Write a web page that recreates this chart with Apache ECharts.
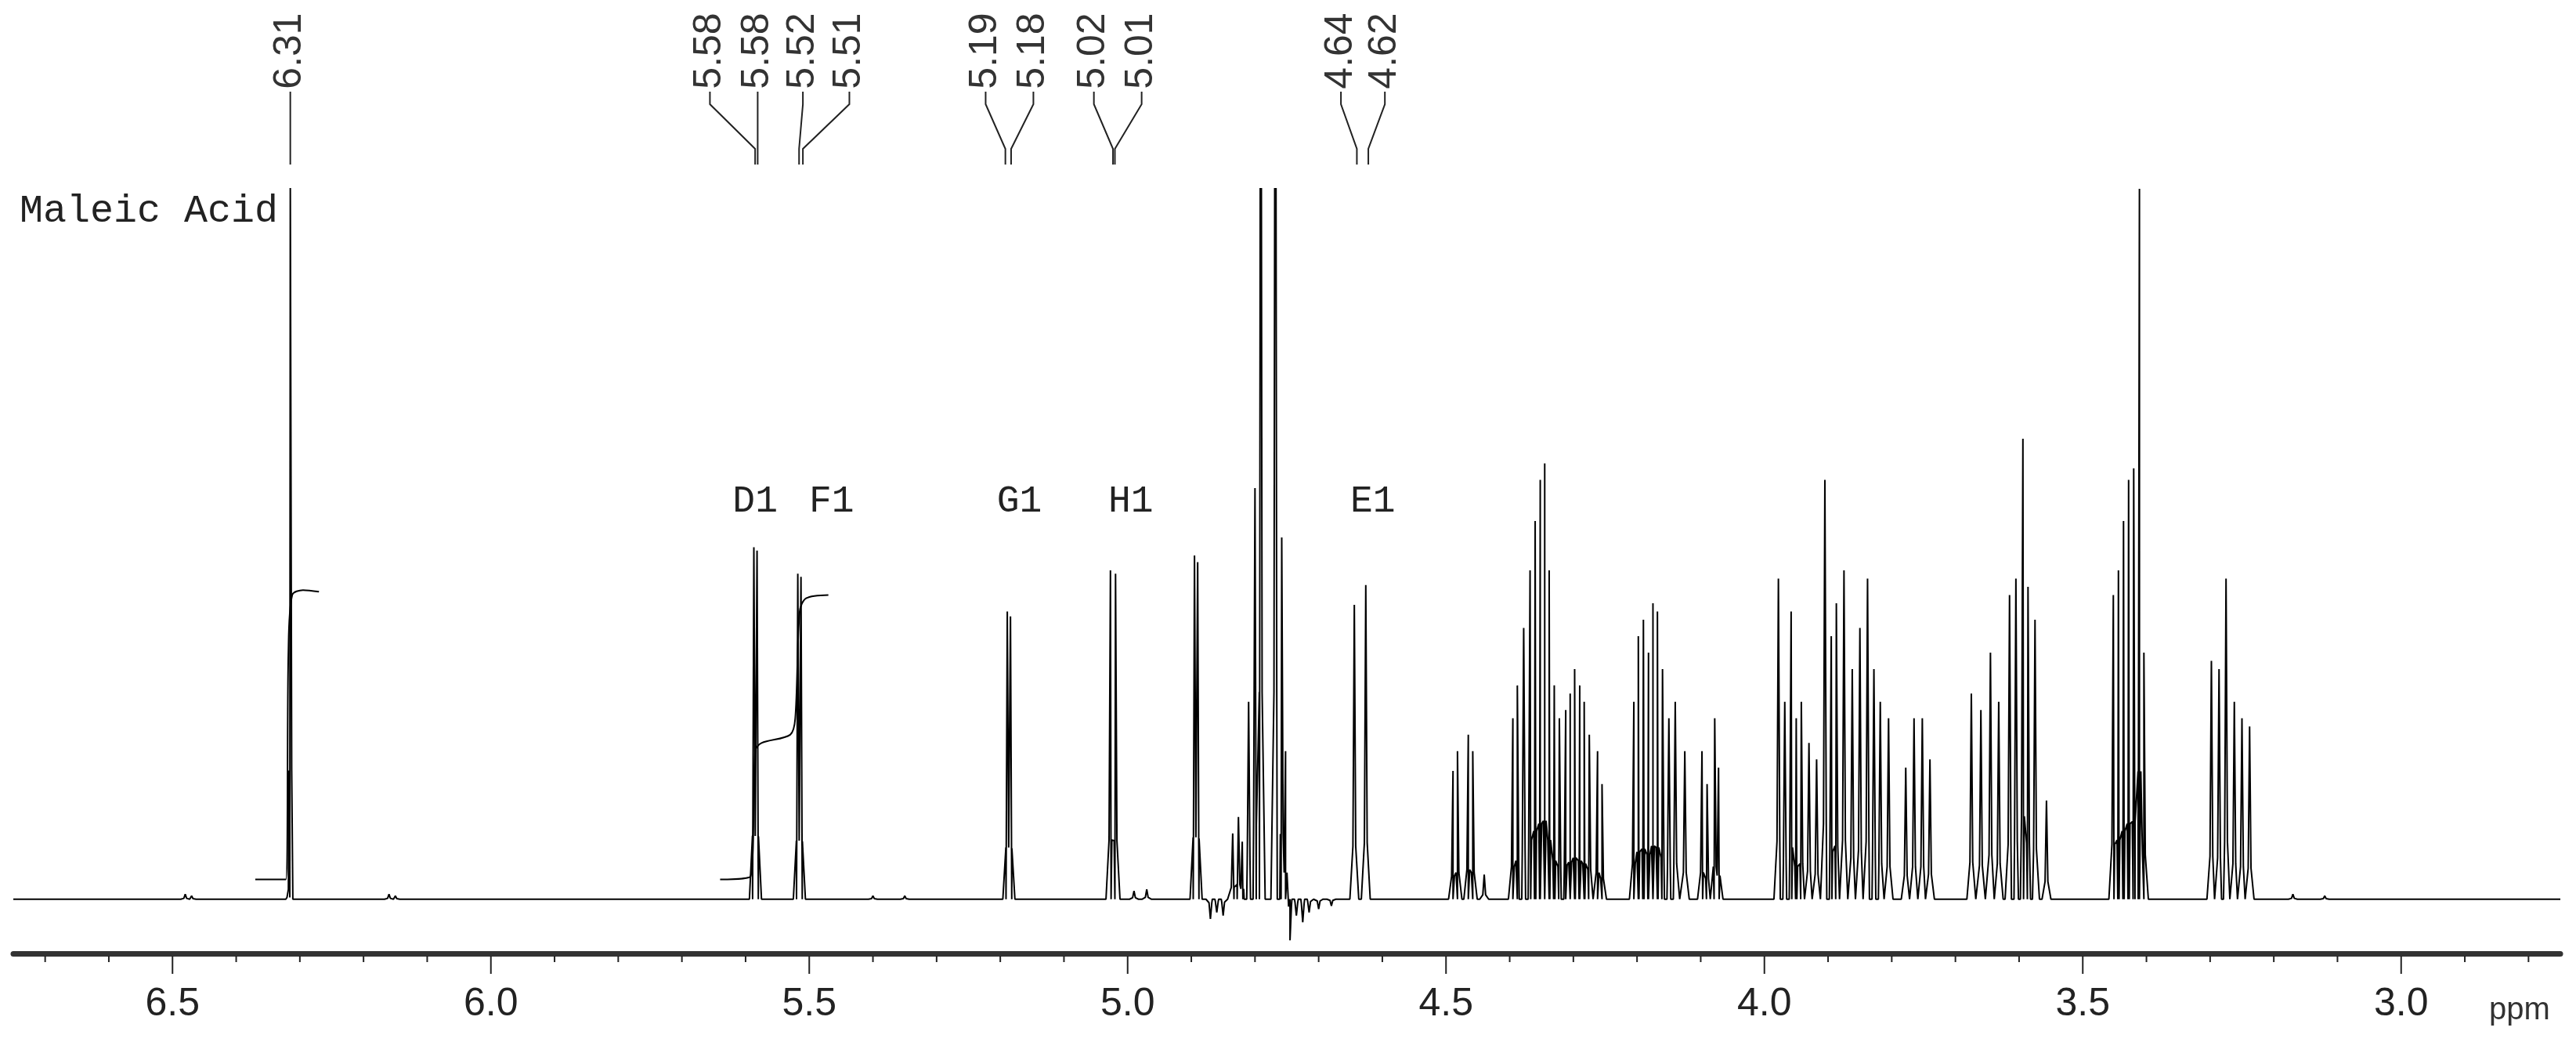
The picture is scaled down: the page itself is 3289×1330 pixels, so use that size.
<!DOCTYPE html>
<html><head><meta charset="utf-8">
<script src="https://cdn.jsdelivr.net/npm/echarts@6/dist/echarts.min.js"></script>
<style>html,body{margin:0;padding:0;background:#fff}#c{width:3289px;height:1330px}</style>
</head><body><div id="c"></div>
<script>
// Peak positions (ppm) and heights
const peakPpm = [6.48,6.47,6.16,6.15,6.318,6.315,5.587,5.582,5.518,5.513,5.40,5.35,5.189,5.184,5.027,5.019,4.99,4.97,
4.895,4.890,4.87,4.86,4.85,4.835,4.826,4.82,4.81,4.80,4.791,4.768,4.758,4.752,4.745,4.735,4.725,4.715,4.70,4.68,
4.644,4.626,4.489,4.482,4.465,4.458,4.44,
4.395,4.388,4.378,4.368,4.360,4.352,4.345,4.338,4.33,4.322,
4.312,4.305,4.298,4.290,4.283,4.275,4.262,4.255,
4.205,4.198,4.190,4.182,4.175,4.168,4.160,4.150,4.14,4.125,
4.098,4.090,4.078,4.072,
3.978,3.968,3.958,3.950,3.942,3.930,3.918,
3.905,3.895,3.887,3.875,3.862,3.850,3.838,3.828,3.818,3.805,
3.778,3.765,3.752,3.740,
3.675,3.660,3.645,3.632,3.615,3.605,3.594,3.586,3.575,3.557,
3.452,3.444,3.436,3.428,3.420,3.411,3.404,
3.298,3.286,3.275,3.262,3.250,3.238,3.17,3.12];
const peakHeight = [3,2,3,2,6,435,214,212,198,196,2,2,175,172,200,198,5,6,
209,205,-12,-8,-10,40,50,35,120,250,700,700,220,90,-25,-10,-14,-8,-6,-4,
179,191,78,90,100,90,15,
110,130,165,200,230,255,265,200,130,110,
115,125,140,130,120,100,90,70,
120,160,170,150,180,175,140,110,120,90,
90,70,110,80,
195,120,175,110,120,95,85,
255,160,180,200,140,165,195,140,120,110,
80,110,110,85,
125,115,150,120,185,195,280,190,170,60,
185,200,230,255,262,432,150,
145,140,195,120,110,105,3,2];
// Integral traces
const integral1 = [[6.37,12],[6.322,12],[6.318,150],[6.312,185],[6.295,188],[6.27,187]];
const integral2 = [[5.64,12],[5.592,14],[5.585,90],[5.575,95],[5.53,100],[5.522,110],[5.515,175],[5.505,183],[5.47,185]];
// Axis ticks
const tickValues = [6.7,6.6,6.5,6.4,6.3,6.2,6.1,6.0,5.9,5.8,5.7,5.6,5.5,5.4,5.3,5.2,5.1,5.0,4.9,4.8,4.7,4.6,4.5,4.4,4.3,4.2,4.1,4.0,3.9,3.8,3.7,3.6,3.5,3.4,3.3,3.2,3.1,3.0,2.9,2.8];
// Chemical-shift labels: text, label position (ppm), peak position (ppm)
const shiftText = ['6.31','5.58','5.58','5.52','5.51','5.19','5.18','5.02','5.01','4.64','4.62'];
const shiftLabelPpm = [6.315,5.656,5.581,5.510,5.437,5.223,5.148,5.053,4.978,4.665,4.596];
const shiftPeakPpm = [6.315,5.585,5.581,5.516,5.510,5.192,5.183,5.023,5.020,4.640,4.622];
// Assignment labels
const assignText = ['D1','F1','G1','H1','E1'];
const assignPpm = [5.585,5.465,5.170,4.995,4.615];

const pts = [];
for (let i = 0; i < peakPpm.length; i++) {
  const p = peakPpm[i], h = peakHeight[i];
  pts.push([p + 0.007, 0], [p + 0.0022, 0.18 * h], [p, h], [p - 0.0022, 0.18 * h], [p - 0.007, 0]);
}
pts.push([6.75, 0], [2.75, 0]);
pts.sort((a, b) => b[0] - a[0]);

const chart = echarts.init(document.getElementById('c'));
chart.setOption({
  animation: false,
  backgroundColor: '#fff',
  grid: {left: 17, right: 20, top: 241, bottom: 113},
  xAxis: {
    type: 'value', inverse: true, min: 2.75, max: 6.75, interval: 0.05,
    axisLine: {show: true, onZero: false, lineStyle: {color: '#333', width: 7}},
    axisTick: {show: false}, splitLine: {show: false},
    axisLabel: {margin: 40, fontSize: 50, color: '#222', fontFamily: 'Liberation Sans',
      formatter: v => (Math.abs(v * 2 - Math.round(v * 2)) < 1e-6 ? v.toFixed(1) : '')}
  },
  yAxis: {type: 'value', min: -33, max: 432, show: false},
  series: [
    {type: 'line', data: pts, symbol: 'none', clip: true, lineStyle: {color: '#000', width: 2}},
    {type: 'line', data: integral1, symbol: 'none', smooth: 0.3, lineStyle: {color: '#000', width: 2}},
    {type: 'line', data: integral2, symbol: 'none', smooth: 0.3, lineStyle: {color: '#000', width: 2}},
    {type: 'custom', clip: false, data: tickValues.map(v => [v, -33]),
      renderItem: (params, api) => {
        const v = api.value(0);
        const p = api.coord([v, -33]);
        const major = Math.abs(v * 2 - Math.round(v * 2)) < 1e-6;
        return {type: 'line', shape: {x1: p[0], y1: p[1] + 3, x2: p[0], y2: p[1] + (major ? 26 : 11)},
          style: {stroke: '#222', lineWidth: 2}};
      }}
  ]
});

const g = [];
for (let i = 0; i < shiftText.length; i++) {
  const lx = chart.convertToPixel({xAxisIndex: 0}, shiftLabelPpm[i]);
  const px = chart.convertToPixel({xAxisIndex: 0}, shiftPeakPpm[i]);
  g.push({type: 'text', x: lx, y: 65, rotation: Math.PI / 2,
    style: {text: shiftText[i], font: '50px "Liberation Sans"', fill: '#333', textAlign: 'center', textVerticalAlign: 'middle'}});
  g.push({type: 'polyline', shape: {points: [[lx, 117], [lx, 133], [px, 190], [px, 210]]},
    style: {stroke: '#222', lineWidth: 2, fill: null}});
}
for (let i = 0; i < assignText.length; i++) {
  const x = chart.convertToPixel({xAxisIndex: 0}, assignPpm[i]);
  g.push({type: 'text', x: x, y: 640, style: {text: assignText[i], font: '48px "Liberation Mono"', fill: '#222', textAlign: 'center', textVerticalAlign: 'middle'}});
}
g.push({type: 'text', x: 25, y: 270, style: {text: 'Maleic Acid', font: '50px "Liberation Mono"', fill: '#222', textVerticalAlign: 'middle'}});
g.push({type: 'text', x: 3178, y: 1290, style: {text: 'ppm', font: '40px "Liberation Sans"', fill: '#333', textVerticalAlign: 'middle'}});
chart.setOption({graphic: g});
</script></body></html>
